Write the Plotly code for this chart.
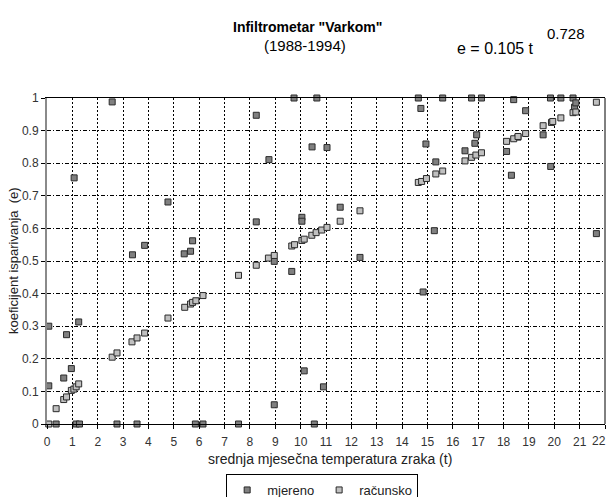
import plotly.graph_objects as go

# measured (mjereno)
mj_t = [0.07, 0.07, 0.36, 0.66, 0.77, 0.96, 1.07, 1.15, 1.25, 1.28, 2.57, 2.76, 3.37, 3.55, 3.85,
        4.77, 5.41, 5.66, 5.74, 5.85, 6.15, 7.55, 8.25, 8.25, 8.75, 8.96, 8.96, 9.65, 9.74, 10.05,
        10.05, 10.14, 10.45, 10.54, 10.64, 10.9, 11.04, 11.56, 12.34, 14.64, 14.74, 14.83, 14.94,
        15.27, 15.33, 15.6, 16.48, 16.74, 16.87, 16.94, 17.13, 18.12, 18.31, 18.4, 18.57, 18.87,
        19.56, 19.85, 19.86, 20.26, 20.74, 20.8, 20.85, 21.66]
mj_e = [0.30, 0.117, 0.0, 0.141, 0.274, 0.17, 0.755, 0.0, 0.313, 0.0, 0.988, 0.0, 0.519, 0.0, 0.548,
        0.681, 0.522, 0.53, 0.562, 0.0, 0.0, 0.0, 0.947, 0.62, 0.811, 0.499, 0.059, 0.468, 1.0, 0.634,
        0.622, 0.163, 0.85, 0.0, 1.0, 0.114, 0.848, 0.665, 0.511, 1.0, 0.968, 0.405, 0.859,
        0.593, 0.804, 1.0, 0.838, 1.0, 0.861, 0.887, 1.0, 0.836, 0.763, 0.995, 0.88, 0.961,
        0.887, 1.0, 0.79, 1.0, 1.0, 0.972, 0.985, 0.584]

# computed (racunsko)
ra_t = [0.07, 0.36, 0.66, 0.77, 0.96, 1.06, 1.15, 1.25, 2.57, 2.76, 3.35, 3.55, 3.85, 4.77, 5.43,
        5.66, 5.74, 5.87, 6.15, 7.55, 8.25, 8.73, 8.96, 9.65, 9.76, 10.05, 10.14, 10.44, 10.61,
        10.83, 11.04, 11.56, 12.34, 14.64, 14.77, 14.96, 15.33, 15.6, 16.48, 16.74, 16.91, 17.13,
        18.12, 18.4, 18.57, 18.87, 19.56, 19.89, 19.94, 20.26, 20.74, 20.85, 21.66]
ra_e = [0.0, 0.047, 0.075, 0.083, 0.103, 0.107, 0.114, 0.123, 0.205, 0.218, 0.252, 0.264, 0.279, 0.325, 0.358,
        0.368, 0.373, 0.378, 0.394, 0.456, 0.487, 0.509, 0.517, 0.546, 0.55, 0.563, 0.567, 0.579, 0.587,
        0.595, 0.603, 0.622, 0.654, 0.741, 0.744, 0.753, 0.767, 0.776, 0.807, 0.818, 0.825, 0.832,
        0.867, 0.875, 0.882, 0.891, 0.915, 0.925, 0.928, 0.939, 0.955, 0.957, 0.987]

x_ticks = list(range(0, 23))
y_ticks = [0, 0.1, 0.2, 0.3, 0.4, 0.5, 0.6, 0.7, 0.8, 0.9, 1]
y_ticktext = ["0", "0.1", "0.2", "0.3", "0.4", "0.5", "0.6", "0.7", "0.8", "0.9", "1"]

FONT = "Liberation Sans, Arial, sans-serif"
L, R, T, B = 47, 4, 98, 73
PW, PH = 609 - L - R, 497 - T - B


def px_x(p):
    return (p - L) / PW


def px_y(p):
    return 1 - (p - T) / PH


fig = go.Figure()
fig.add_trace(go.Scatter(
    x=mj_t, y=mj_e, mode="markers", name="mjereno", cliponaxis=False,
    marker=dict(symbol="square", size=6, color="#808080", line=dict(color="#2a2a2a", width=1)),
))
fig.add_trace(go.Scatter(
    x=ra_t, y=ra_e, mode="markers", name="računsko", cliponaxis=False,
    marker=dict(symbol="square", size=6, color="#c0c0c0", line=dict(color="#2a2a2a", width=1)),
))

fig.update_layout(
    width=609, height=497,
    margin=dict(l=L, r=R, t=T, b=B),
    paper_bgcolor="white", plot_bgcolor="white",
    font=dict(family=FONT, size=12, color="#222"),
    showlegend=True,
    legend=dict(
        orientation="h", xref="container", yref="container",
        x=0.529, xanchor="center", y=1 - 474 / 497, yanchor="top",
        bordercolor="#000", borderwidth=1, bgcolor="white",
        font=dict(family=FONT, size=13, color="#222"),
    ),
    xaxis=dict(
        range=[0, 22], tickvals=x_ticks, ticktext=[str(v) for v in x_ticks],
        showgrid=True, gridcolor="#000", griddash="2px,2px", gridwidth=1,
        showline=True, linecolor="#000", linewidth=1, mirror=True,
        ticks="outside", ticklen=4, tickcolor="#000", ticklabelstandoff=3,
        tickfont=dict(size=12, color="#333"),
        zeroline=False,
    ),
    yaxis=dict(
        range=[0, 1], tickvals=y_ticks, ticktext=y_ticktext,
        showgrid=True, gridcolor="#000", griddash="4px,2px,1px,2px", gridwidth=1,
        showline=True, linecolor="#8a8a8a", linewidth=2,
        ticks="outside", ticklen=4, tickcolor="#000",
        tickfont=dict(size=12, color="#333"),
        zeroline=False,
    ),
    shapes=[
        dict(type="line", xref="paper", yref="paper", x0=1, x1=1, y0=0, y1=1,
             line=dict(color="#000", width=1)),
    ],
    annotations=[
        dict(text="<b>Infiltrometar \"Varkom\"</b>", xref="paper", yref="paper",
             x=px_x(307), y=px_y(27), xanchor="center", yanchor="middle",
             showarrow=False, font=dict(family=FONT, size=14, color="#000")),
        dict(text="(1988-1994)", xref="paper", yref="paper",
             x=px_x(305), y=px_y(45), xanchor="center", yanchor="middle",
             showarrow=False, font=dict(family=FONT, size=15, color="#000")),
        dict(text="e = 0.105 t", xref="paper", yref="paper",
             x=px_x(455), y=px_y(49), xanchor="left", yanchor="middle",
             showarrow=False, font=dict(family=FONT, size=16, color="#000")),
        dict(text="0.728", xref="paper", yref="paper",
             x=px_x(545), y=px_y(33), xanchor="left", yanchor="middle",
             showarrow=False, font=dict(family=FONT, size=15, color="#000")),
        dict(text="koeficijent isparivanja  (e)", xref="paper", yref="paper",
             x=px_x(13), y=px_y(261), xanchor="center", yanchor="middle", textangle=-90,
             showarrow=False, font=dict(family=FONT, size=13, color="#222")),
        dict(text="srednja mjesečna temperatura zraka (t)", xref="paper", yref="paper",
             x=px_x(330), y=px_y(459), xanchor="center", yanchor="middle",
             showarrow=False, font=dict(family=FONT, size=14, color="#222")),
        dict(text=str(x_ticks[-1]), xref="paper", yref="paper",
             x=px_x(608), y=px_y(441), xanchor="right", yanchor="middle",
             showarrow=False, font=dict(family=FONT, size=12, color="#333")),
    ],
)

fig.write_html("out.html", config={"displayModeBar": False},
               post_script="document.body.style.margin='0px';")
